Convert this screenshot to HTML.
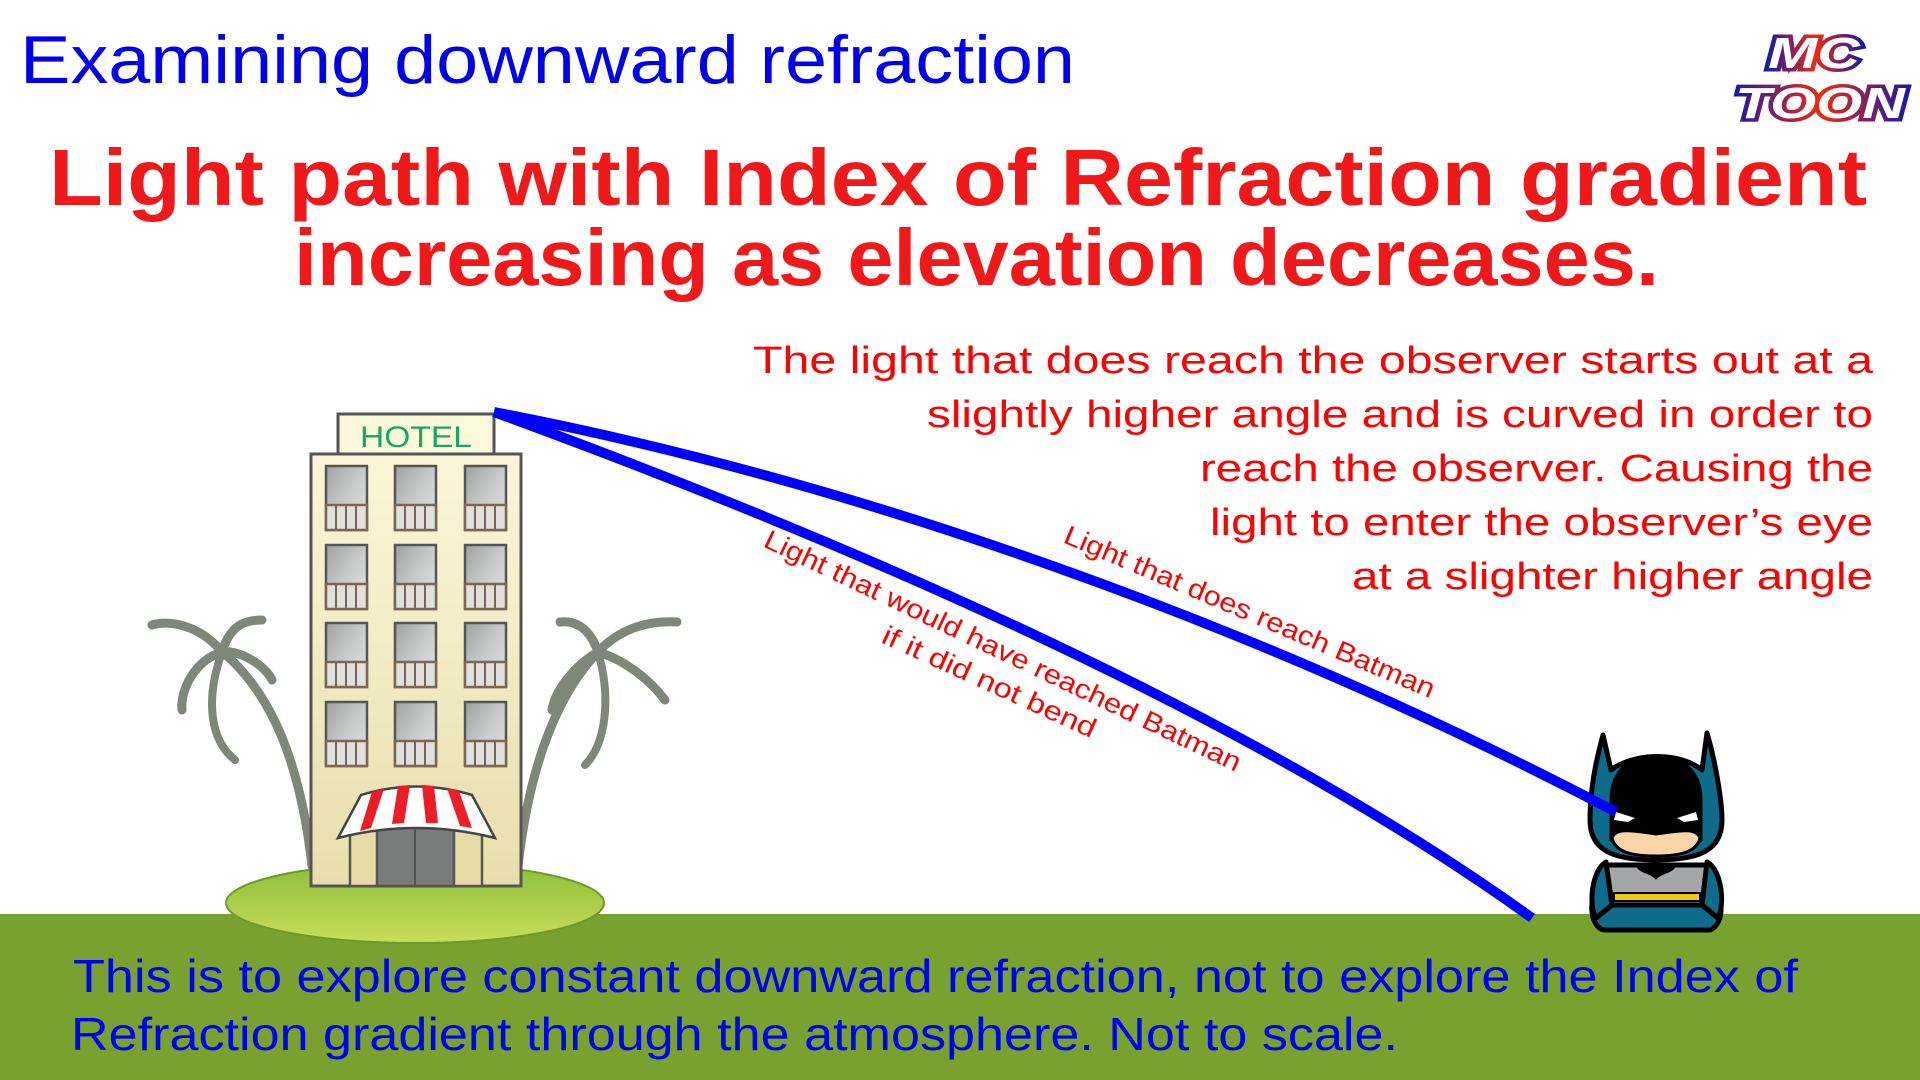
<!DOCTYPE html>
<html><head><meta charset="utf-8"><style>
html,body{margin:0;padding:0;background:#fff;}
svg{display:block;}
</style></head><body>
<svg width="1920" height="1080" viewBox="0 0 1920 1080" xmlns="http://www.w3.org/2000/svg" font-family="'Liberation Sans', sans-serif">
<defs>
<linearGradient id="bld" x1="0" y1="0" x2="0" y2="1"><stop offset="0" stop-color="#fbf6d8"/><stop offset="1" stop-color="#e8deac"/></linearGradient>
<linearGradient id="isl" x1="0" y1="0" x2="0" y2="1"><stop offset="0" stop-color="#8cbe38"/><stop offset="1" stop-color="#c8de5a"/></linearGradient>
<linearGradient id="glass" x1="0" y1="0" x2="1" y2="1"><stop offset="0" stop-color="#9fa1a1"/><stop offset="0.5" stop-color="#c9cbcb"/><stop offset="1" stop-color="#e4e6e6"/></linearGradient>
<linearGradient id="logo" x1="0" y1="0" x2="1" y2="0"><stop offset="0" stop-color="#1a1aa8"/><stop offset="0.5" stop-color="#ee2a10"/><stop offset="1" stop-color="#1a1aa8"/></linearGradient>
</defs>
<rect width="1920" height="1080" fill="#fff"/>
<rect x="0" y="914" width="1920" height="166" fill="#78a22f"/>

<text x="20" y="83" font-size="68" fill="#0000ee" textLength="1055" lengthAdjust="spacingAndGlyphs">Examining downward refraction</text>

<text x="1768" y="68" font-size="44" font-weight="bold" font-style="italic" fill="#fff" stroke="url(#logo)" stroke-width="7" paint-order="stroke" textLength="92" lengthAdjust="spacingAndGlyphs">MC</text>
<text x="1735" y="118" font-size="44" font-weight="bold" font-style="italic" fill="#fff" stroke="url(#logo)" stroke-width="7" paint-order="stroke" textLength="170" lengthAdjust="spacingAndGlyphs">TOON</text>

<text x="49" y="205" font-size="80" font-weight="bold" fill="#f01818" textLength="1818" lengthAdjust="spacingAndGlyphs">Light path with Index of Refraction gradient</text>
<text x="294" y="285" font-size="80" font-weight="bold" fill="#f01818" textLength="1365" lengthAdjust="spacingAndGlyphs">increasing as elevation decreases.</text>

<g font-size="38" fill="#ff0000" text-anchor="end">
<text x="1873" y="373" textLength="1120" lengthAdjust="spacingAndGlyphs">The light that does reach the observer starts out at a</text>
<text x="1873" y="427" textLength="946" lengthAdjust="spacingAndGlyphs">slightly higher angle and is curved in order to</text>
<text x="1873" y="481" textLength="673" lengthAdjust="spacingAndGlyphs">reach the observer.  Causing the</text>
<text x="1873" y="535" textLength="663" lengthAdjust="spacingAndGlyphs">light to enter the observer’s eye</text>
<text x="1873" y="589" textLength="521" lengthAdjust="spacingAndGlyphs">at a slighter higher angle</text>
</g>

<g font-size="27" fill="#ff0000">
<text transform="translate(1062,542) rotate(23)" textLength="400" lengthAdjust="spacingAndGlyphs">Light that does reach Batman</text>
<text transform="translate(762,546) rotate(25.5)" textLength="525" lengthAdjust="spacingAndGlyphs">Light that would have reached Batman</text>
<text transform="translate(880,642) rotate(24.5)" textLength="232" lengthAdjust="spacingAndGlyphs">if it did not bend</text>
</g>

<ellipse cx="415" cy="903" rx="189" ry="40" fill="url(#isl)" stroke="#6f9a28" stroke-width="2"/>

<g fill="none" stroke="#7f877a" stroke-linecap="round">
<path d="M312,866 C300,760 270,690 220,650" stroke-width="9"/>
<path d="M222,652 C200,625 170,620 152,625" stroke-width="9"/>
<path d="M222,652 C230,625 245,620 262,620" stroke-width="9"/>
<path d="M222,652 C240,650 265,665 272,680" stroke-width="9"/>
<path d="M222,652 C195,660 180,690 182,710" stroke-width="9"/>
<path d="M222,652 C205,700 210,740 235,760" stroke-width="8"/>
<path d="M518,866 C530,760 560,690 600,650" stroke-width="9"/>
<path d="M598,652 C620,628 650,620 677,622" stroke-width="9"/>
<path d="M598,652 C590,628 575,620 560,622" stroke-width="9"/>
<path d="M598,652 C625,660 650,680 665,700" stroke-width="9"/>
<path d="M598,652 C575,665 555,690 552,710" stroke-width="9"/>
<path d="M598,652 C612,700 605,745 585,765" stroke-width="8"/>
</g>

<rect x="311" y="454" width="210" height="432" fill="url(#bld)" stroke="#555" stroke-width="3"/>
<rect x="338" y="414" width="156" height="40" fill="#fbf8dc" stroke="#555" stroke-width="3"/>
<text x="416" y="447" font-size="30" fill="#1aa564" text-anchor="middle" textLength="112" lengthAdjust="spacingAndGlyphs">HOTEL</text>
<g stroke="#555" stroke-width="2.5">
<g id="w">
<rect x="326" y="466" width="41" height="64" fill="url(#glass)"/>
<rect x="326" y="505" width="41" height="25" fill="#e0e0dc" stroke="#7a6656"/>
<path d="M336,505 V530 M346,505 V530 M356,505 V530" stroke="#7a6656" stroke-width="2"/>
</g>
<use href="#w" x="69"/><use href="#w" x="139"/>
<use href="#w" y="79"/><use href="#w" x="69" y="79"/><use href="#w" x="139" y="79"/>
<use href="#w" y="157"/><use href="#w" x="69" y="157"/><use href="#w" x="139" y="157"/>
<use href="#w" y="236"/><use href="#w" x="69" y="236"/><use href="#w" x="139" y="236"/>
</g>
<rect x="350" y="828" width="132" height="58" fill="#e6dba6" stroke="#555" stroke-width="2.5"/>
<rect x="377" y="821" width="77" height="65" fill="#7a7c7c" stroke="#555" stroke-width="2.5"/>
<line x1="415" y1="821" x2="415" y2="886" stroke="#555" stroke-width="2"/>
<path d="M338,838 L361,795 Q416,778 472,795 L495,838 Q416,818 338,838 Z" fill="#fff" stroke="#444" stroke-width="2.5"/>
<g fill="#ee1c24">
<path d="M372,792 L384,789 L371,828 L360,831 Z"/>
<path d="M398,786 L410,785 L404,823 L392,824 Z"/>
<path d="M422,785 L434,786 L438,823 L426,823 Z"/>
<path d="M447,788 L459,791 L472,828 L460,826 Z"/>
</g>

<g stroke="#000" stroke-width="5" stroke-linejoin="round">
<path d="M1598,885 C1585,910 1595,930 1605,930 L1710,930 C1722,925 1725,905 1715,885 Z" fill="#0f6b8a"/>
<path d="M1605,865 L1708,865 L1712,905 L1600,905 Z" fill="#a4a6a8"/>
<path d="M1606,862 C1592,870 1588,905 1596,918 L1612,905 Z" fill="#0f6b8a"/>
<path d="M1707,862 C1722,870 1725,905 1718,918 L1702,905 Z" fill="#0f6b8a"/>
<rect x="1614" y="893" width="86" height="8" fill="#f2c814" stroke-width="2"/>
<path d="M1603,735 L1611,770 C1635,752 1680,752 1702,770 L1707,733 C1715,760 1722,800 1722,820 C1722,850 1700,860 1656,860 C1612,860 1590,850 1590,820 C1590,790 1596,760 1603,735 Z" fill="#0f6b8a"/>
<path d="M1612,800 C1612,770 1632,757 1656,757 C1680,757 1700,770 1700,800 L1700,840 L1612,840 Z" fill="#000"/>
<path d="M1612,838 C1615,828 1630,830 1656,834 C1682,830 1697,828 1700,838 C1697,852 1680,856 1656,856 C1632,856 1615,852 1612,838 Z" fill="#fbd4a8" stroke-width="3"/>
</g>
<path d="M1616,812 L1635,818 L1628,822 L1614,820 Z" fill="#fff"/>
<path d="M1696,812 L1677,818 L1684,822 L1698,820 Z" fill="#fff"/>
<path d="M1637,868 C1645,862 1650,866 1656,862 C1662,866 1667,862 1675,868 C1670,874 1660,874 1656,880 C1652,874 1642,874 1637,868 Z" fill="#000"/>

<g fill="none" stroke="#0000ff" stroke-width="10" stroke-linecap="butt">
<path d="M494,412 C790,520 1230,700 1532,918"/>
<path d="M494,412 C850,480 1250,620 1616,812"/>
</g>

<g font-size="46" fill="#0000ee">
<text x="73" y="992" textLength="1725" lengthAdjust="spacingAndGlyphs">This is to explore constant downward refraction, not to explore the Index of</text>
<text x="71" y="1050" textLength="1327" lengthAdjust="spacingAndGlyphs">Refraction gradient through the atmosphere.  Not to scale.</text>
</g>
</svg>
</body></html>
